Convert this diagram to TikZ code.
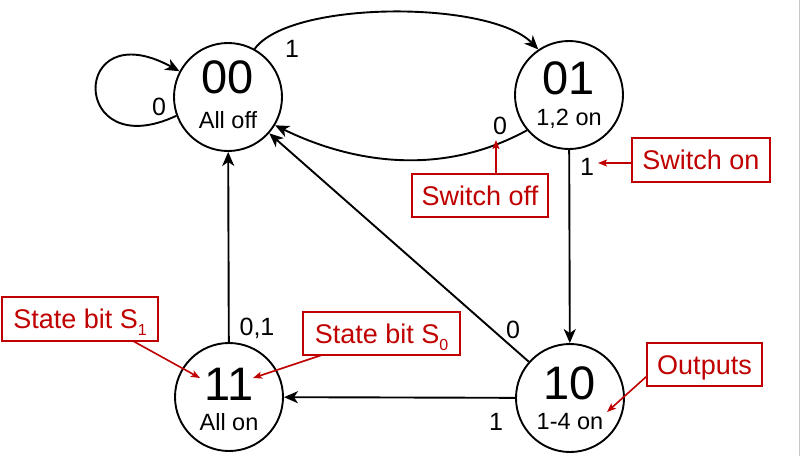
\documentclass[tikz,border=0pt]{standalone}
\usepackage{fontspec}
\setmainfont{Liberation Sans}
\usetikzlibrary{arrows.meta}
\definecolor{callred}{RGB}{192,0,0}
\begin{document}
\begin{tikzpicture}[x=1pt,y=-1pt,
  state/.style={circle,draw,line width=1.9pt,minimum size=108pt,inner sep=0pt},
  big/.style={anchor=base,inner sep=0pt,font=\fontsize{47}{50}\selectfont},
  small/.style={anchor=base,inner sep=0pt,font=\fontsize{23.5}{26}\selectfont},
  lab/.style={anchor=base,inner sep=0pt,font=\fontsize{25}{28}\selectfont},
  edge/.style={line width=1.9pt,-{Stealth[length=14pt,width=12pt,inset=4pt]}},
  callout/.style={draw=callred,line width=2pt,fill=white,text=callred,
    font=\fontsize{27}{30}\selectfont,inner sep=0pt,text height=19.5pt,text depth=0pt},
  callarrow/.style={draw=callred,line width=1.6pt,-{Stealth[length=9pt,width=7pt,inset=2pt]}}
]
\useasboundingbox (0,0) rectangle (801,456);
\draw[black!22,line width=1pt] (799.5,0) -- (799.5,456);

% states
\node[state] (n00) at (228,97) {};
\node[state] (n01) at (569,95) {};
\node[state] (n11) at (229,397) {};
\node[state] (n10) at (570,398) {};

\node[big] (b00) at (228,93) {00};
\node[small] (s00) at (228,128) {All off};
\node[big] (b01) at (569,94) {01};
\node[small] (s01) at (569,125) {1,2 on};
\node[big] (b11) at (229,400) {11};
\node[small] (s11) at (229,430) {All on};
\node[big] (b10) at (570,399) {10};
\node[small] (s10) at (570,429) {1-4 on};

% transitions
\draw[edge] (n00.200) .. controls +(-107,50) and +(-110,-60) .. (n00.152);
\draw[edge] (n00.61) .. controls (290,0) and (490,0) .. (n01.124);
\draw[edge] (n01.220) .. controls (440,178) and (350,162) .. (n00.329);
\draw[edge] (n01) -- (n10);
\draw[edge] (n10) -- (n00);
\draw[edge] (n10) -- (n11);
\draw[edge] (n11) -- (n00);

% transition labels
\node[lab] (lloop) at (159,115) {0};
\node[lab] (l0001) at (292,57) {1};
\node[lab] (l0100) at (500,134) {0};
\node[lab] (l0110) at (587,175) {1};
\node[lab] (l1000) at (513,338) {0};
\node[lab] (l1011) at (496,430) {1};
\node[lab] (l1100) at (257,335) {0,1};

% callouts
\node[callout,minimum width=138pt,minimum height=44pt] (con) at (701,160) {Switch on};
\node[callout,minimum width=136pt,minimum height=43pt] (coff) at (480,195.5) {Switch off};
\node[callout,minimum width=156pt,minimum height=44pt] (cs1) at (80,319)
  {State bit S\raisebox{-7pt}{\fontsize{16}{18}\selectfont 1}};
\node[callout,minimum width=157pt,minimum height=43pt] (cs0) at (381.5,333.5)
  {State bit S\raisebox{-7pt}{\fontsize{16}{18}\selectfont 0}};
\node[callout,minimum width=115pt,minimum height=43pt] (cout) at (704.5,364.5) {Outputs};

\coordinate (aon) at (598,163);
\coordinate (aoffs) at (496,174);
\coordinate (aoff) at (496,140);
\coordinate (as1s) at (133,341);
\coordinate (as1) at (200,378);
\coordinate (as0s) at (322,355);
\coordinate (as0) at (253,378);
\coordinate (aouts) at (647,376);
\coordinate (aout) at (607,412);

\draw[callarrow] (con.west |- aon) -- (aon);
\draw[callarrow] (aoffs) -- (aoff);
\draw[callarrow] (as1s) -- (as1);
\draw[callarrow] (as0s) -- (as0);
\draw[callarrow] (aouts) -- (aout);
\end{tikzpicture}
\end{document}
